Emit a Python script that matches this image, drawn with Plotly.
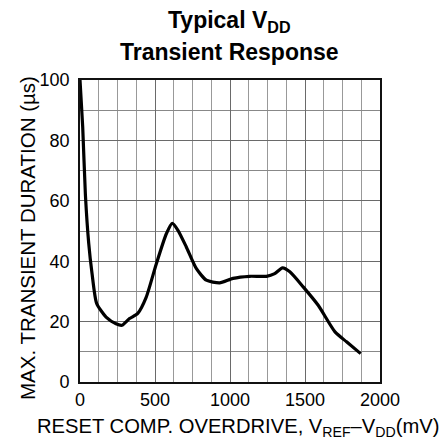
import plotly.graph_objects as go

overdrive_mv = [0, 18, 36, 58, 80, 111, 174, 240, 280, 330, 385, 441, 508, 575, 615, 652, 708, 775,
                842, 931, 1020, 1131, 1243, 1298, 1350, 1399, 1488, 1588, 1700, 1777, 1871]
duration_us = [100, 84.5, 62, 46, 36, 26, 21.5, 19.3, 18.8, 21, 22.7, 28, 39, 49, 52.5, 50.3, 44.8, 37.6,
               33.7, 32.8, 34.3, 35, 35, 35.9, 37.8, 36.5, 31.5, 25.4, 16.6, 13.3, 9.4]
x_ticks = [0, 500, 1000, 1500, 2000]
y_ticks = [0, 20, 40, 60, 80, 100]

FONT = "Liberation Sans, Arial, sans-serif"
PLOT_H = 302.0
PLOT_W = 300.0

fig = go.Figure()
fig.add_trace(go.Scatter(x=overdrive_mv, y=duration_us, mode="lines",
                         line=dict(color="black", width=3.2, shape="spline", smoothing=0.6),
                         showlegend=False, hoverinfo="skip"))

fig.update_layout(
    width=440, height=434,
    margin=dict(l=72, r=68, t=72, b=60, autoexpand=False),
    paper_bgcolor="white", plot_bgcolor="white",
    font=dict(family=FONT, color="black"),
)
annots = [
    dict(text="<b>Typical V<sub>DD</sub></b>", x=0.497, y=1 + 59 / PLOT_H, font=dict(size=23)),
    dict(text="<b>Transient Response</b>", x=0.497, y=1 + 28 / PLOT_H, font=dict(size=23)),
    dict(text="RESET COMP. OVERDRIVE, V<sub>REF</sub>–V<sub>DD</sub>(mV)", x=0.525,
         y=-45 / PLOT_H, font=dict(size=20.2)),
    dict(text="MAX. TRANSIENT DURATION (µs)", x=-53 / PLOT_W, y=0.5 - 7 / PLOT_H, textangle=-90,
         font=dict(size=20.5)),
]
for a in annots:
    a.update(xref="paper", yref="paper", xanchor="center", yanchor="middle", showarrow=False)
    a["font"].update(family=FONT, color="black")
fig.update_layout(annotations=annots)

fig.update_xaxes(range=[0, 2000], tickvals=x_ticks, ticks="", showgrid=True,
                 gridcolor="#6a6a6a", gridwidth=1, automargin=False,
                 minor=dict(dtick=125, tick0=0, showgrid=True, gridcolor="#999", gridwidth=1),
                 showline=True, linecolor="#111", linewidth=1.8, mirror=True,
                 tickfont=dict(size=18, family=FONT), zeroline=False)
fig.update_yaxes(range=[0, 100], tickvals=y_ticks, ticks="", showgrid=True,
                 gridcolor="#6a6a6a", gridwidth=1, automargin=False, ticklabelstandoff=5,
                 minor=dict(dtick=10, tick0=0, showgrid=True, gridcolor="#888", gridwidth=1),
                 showline=True, linecolor="#111", linewidth=1.8, mirror=True,
                 tickfont=dict(size=18, family=FONT), zeroline=False)

fig.write_html("out.html")
